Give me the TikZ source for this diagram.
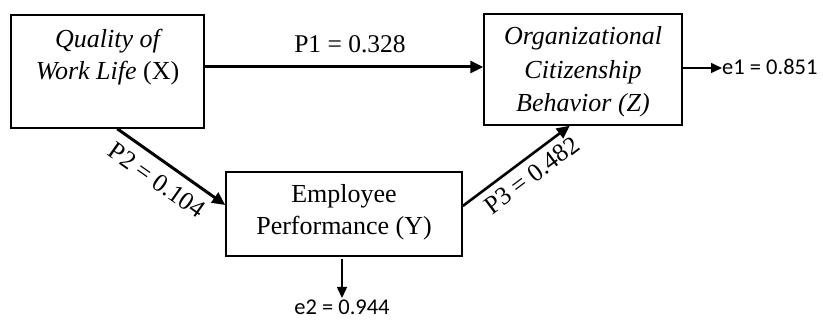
\documentclass[tikz,border=0pt]{standalone}
\usepackage{fontspec}
\setmainfont{Liberation Serif}
\newfontfamily\calib{Carlito}
\usetikzlibrary{arrows.meta,calc}
\begin{document}
\begin{tikzpicture}[x=1pt,y=1pt,
  box/.style={draw, line width=1.5pt, rectangle, inner sep=0pt},
  txt/.style={font=\fontsize{26}{31.5}\selectfont, align=center, inner sep=0pt},
  lbl/.style={font=\fontsize{25.5}{30}\selectfont, inner sep=0pt},
  elbl/.style={font=\calib\fontsize{22.5}{27}\selectfont, inner sep=0pt},
  thick arrow/.style={line width=3pt, -{Triangle[length=13pt,width=12pt]}},
  thin arrow/.style={line width=1.5pt, -{Triangle[length=11pt,width=10pt]}}]
\useasboundingbox (0,0) rectangle (823,-320);
% boxes
\node[box, minimum width=193, minimum height=113] (X) at (107.5,-71.5) {};
\node[box, minimum width=198, minimum height=111] (Z) at (583,-69.5) {};
\node[box, minimum width=236, minimum height=84] (Y) at (344,-214) {};
% texts
\node[txt, anchor=base] (Xt1) at (107.5,-48) {\itshape Quality of};
\node[txt, anchor=base] (Xt2) at (107.5,-80) {\itshape Work Life\/ \upshape(X)};
\node[txt, anchor=base] (Zt1) at (583,-45) {\itshape Organizational};
\node[txt, anchor=base] (Zt2) at (583,-79) {\itshape Citizenship};
\node[txt, anchor=base] (Zt3) at (583,-112) {\itshape Behavior (Z)};
\node[txt, anchor=base] (Yt1) at (344,-203) {Employee};
\node[txt, anchor=base] (Yt2) at (344,-235) {Performance (Y)};
% P1
\draw[thick arrow] (X.east |- 0,-67) -- (Z.west |- 0,-67);
\node[lbl, anchor=base] (p1) at (350,-53) {P1 = 0.328};
% P2
\coordinate (p2s) at ($(X.south west)!0.55!(X.south east)$);
\coordinate (p2e) at ([yshift=9pt]Y.west);
\draw[thick arrow] (p2s) -- (p2e)
  node[lbl, pos=0.47, sloped, below=9pt] (p2) {P2 = 0.104};
% P3
\coordinate (p3s) at ([yshift=8pt]Y.east);
\coordinate (p3e) at ($(Z.south west)!0.434!(Z.south east)$);
\draw[thick arrow, line width=2.6pt] (p3s) -- (p3e)
  node[lbl, pos=0.55, sloped, below=7pt] (p3) {P3 = 0.482};
% e1
\node[elbl, anchor=base west] (e1) at (722,-75) {e1 = 0.851};
\draw[thin arrow] (Z.east |- 0,-68) -- (e1.west |- 0,-68);
% e2
\node[elbl, anchor=base] (e2) at (342,-315) {e2 = 0.944};
\draw[thin arrow] (342,-259) -- (342,-298);
\end{tikzpicture}
\end{document}
